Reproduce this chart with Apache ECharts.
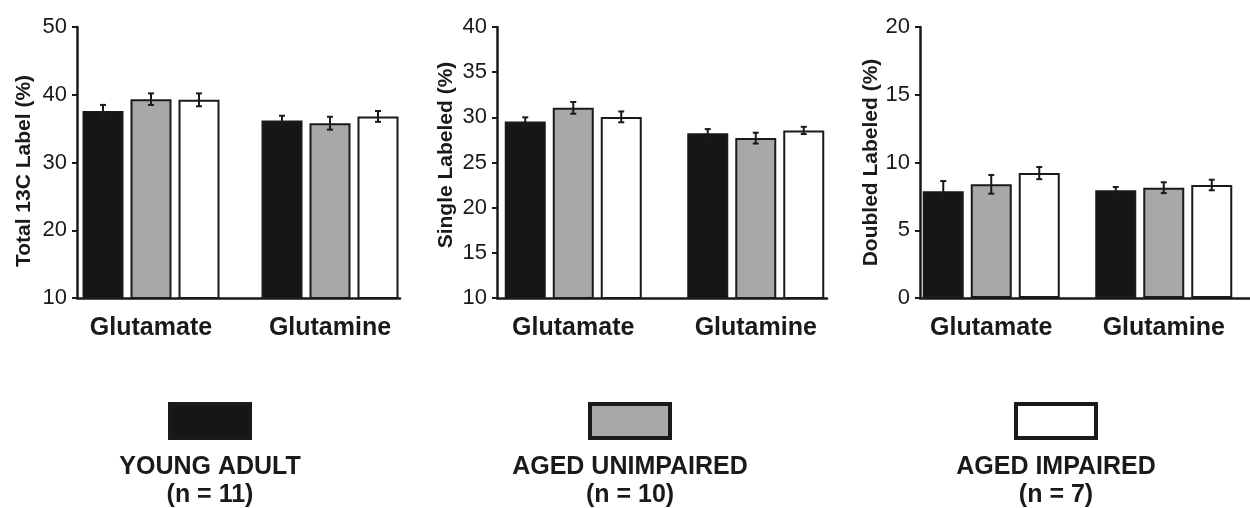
<!DOCTYPE html>
<html>
<head>
<meta charset="utf-8">
<script src="https://cdn.jsdelivr.net/npm/echarts@6/dist/echarts.min.js"></script>
<style>
html,body{margin:0;padding:0;background:#fff;}
#chart{width:1250px;height:508px;}
</style>
</head>
<body>
<div id="chart"></div>
<script>
// ---- data ----
const categories = ['Glutamate', 'Glutamine'];
const groupNames = ['YOUNG ADULT', 'AGED UNIMPAIRED', 'AGED IMPAIRED'];
const groupN = [11, 10, 7];
const panelTitles = ['Total 13C Label (%)', 'Single Labeled (%)', 'Doubled Labeled (%)'];
const yMins = [10, 10, 0];
const yMaxs = [50, 40, 20];
const yIntervals = [10, 5, 5];

const totalYoung = [37.6, 36.2];
const totalYoungErr = [0.9, 0.7];
const totalUnimp = [39.35, 35.8];
const totalUnimpErr = [0.85, 0.95];
const totalImp = [39.25, 36.8];
const totalImpErr = [0.95, 0.8];

const singleYoung = [29.55, 28.25];
const singleYoungErr = [0.45, 0.45];
const singleUnimp = [31.05, 27.7];
const singleUnimpErr = [0.65, 0.6];
const singleImp = [30.05, 28.55];
const singleImpErr = [0.6, 0.4];

const doubledYoung = [7.87, 7.95];
const doubledYoungErr = [0.76, 0.24];
const doubledUnimp = [8.39, 8.14];
const doubledUnimpErr = [0.69, 0.4];
const doubledImp = [9.22, 8.34];
const doubledImpErr = [0.45, 0.39];

// ---- style / layout ----
const FONT = 'Liberation Sans, Arial, sans-serif';
const INK = '#1a1a1a';
const fills = ['#161616', '#a8a8a8', '#ffffff'];
const BAR_W = 41, GAP_PX = 7;
const panels = [
  { means: [totalYoung, totalUnimp, totalImp], errs: [totalYoungErr, totalUnimpErr, totalImpErr],
    axisLeft: 77, axisWidth: 323, barLeft: 61.5, barWidth: 358, nameGap: 42, namePad: [0, 17, 0, 0] },
  { means: [singleYoung, singleUnimp, singleImp], errs: [singleYoungErr, singleUnimpErr, singleImpErr],
    axisLeft: 497, axisWidth: 330, barLeft: 482, barWidth: 365, nameGap: 40, namePad: [0, 0, 0, 15] },
  { means: [doubledYoung, doubledUnimp, doubledImp], errs: [doubledYoungErr, doubledUnimpErr, doubledImpErr],
    axisLeft: 920, axisWidth: 335, barLeft: 905, barWidth: 366, nameGap: 34, namePad: [0, 0, 0, 0] }
];
const TOP = 27, HEIGHT = 271;
const legendCenters = [210, 630, 1056];

const grid = [], xAxis = [], yAxis = [], series = [];
panels.forEach((p, i) => {
  const gA = grid.length;
  grid.push({ left: p.axisLeft, top: TOP, width: p.axisWidth, height: HEIGHT, containLabel: false });
  const gB = grid.length;
  grid.push({ left: p.barLeft, top: TOP, width: p.barWidth, height: HEIGHT, containLabel: false });

  // axis-frame grid
  xAxis.push({ type: 'category', gridIndex: gA, data: categories,
    axisLine: { show: true, lineStyle: { color: INK, width: 2.5 } },
    axisTick: { show: false }, axisLabel: { show: false }, splitLine: { show: false } });
  yAxis.push({ type: 'value', gridIndex: gA, min: yMins[i], max: yMaxs[i], interval: yIntervals[i],
    name: panelTitles[i], nameLocation: 'middle', nameGap: p.nameGap,
    nameTextStyle: { fontFamily: FONT, fontSize: 21, fontWeight: 'bold', color: INK, padding: p.namePad },
    axisLine: { show: true, lineStyle: { color: INK, width: 2.5 } },
    axisTick: { show: true, length: 5, lineStyle: { color: INK, width: 2 } },
    axisLabel: { fontFamily: FONT, fontSize: 22, color: INK, margin: 10 },
    splitLine: { show: false } });

  // bar grid
  const xB = xAxis.length;
  xAxis.push({ type: 'category', gridIndex: gB, data: categories,
    axisLine: { show: false }, axisTick: { show: false },
    axisLabel: { fontFamily: FONT, fontSize: 25, fontWeight: 'bold', color: INK, margin: 18 } });
  const yB = yAxis.length;
  yAxis.push({ type: 'value', gridIndex: gB, min: yMins[i], max: yMaxs[i], interval: yIntervals[i], show: false });

  groupNames.forEach((g, k) => {
    series.push({ type: 'bar', name: g, xAxisIndex: xB, yAxisIndex: yB,
      data: p.means[k], barWidth: BAR_W, barGap: (GAP_PX / BAR_W * 100) + '%',
      itemStyle: { color: fills[k], borderColor: INK, borderWidth: 2 },
      emphasis: { disabled: true }, silent: true, z: 2 });
  });
  groupNames.forEach((g, k) => {
    const off = (k - 1) * (BAR_W + GAP_PX);
    series.push({ type: 'custom', xAxisIndex: xB, yAxisIndex: yB, silent: true, z: 5,
      data: p.means[k].map((m, c) => [c, m, p.errs[k][c]]),
      renderItem: (params, api) => {
        const c = api.value(0), m = api.value(1), e = api.value(2);
        const hi = api.coord([c, m + e]);
        const lo = api.coord([c, m - e]);
        const x = hi[0] + off;
        const st = { stroke: INK, lineWidth: 2 };
        return { type: 'group', children: [
          { type: 'line', shape: { x1: x, y1: hi[1], x2: x, y2: lo[1] }, style: st },
          { type: 'line', shape: { x1: x - 3, y1: hi[1], x2: x + 3, y2: hi[1] }, style: st },
          { type: 'line', shape: { x1: x - 3, y1: lo[1], x2: x + 3, y2: lo[1] }, style: st }
        ] };
      } });
  });
});

const graphic = [];
groupNames.forEach((g, k) => {
  const cx = legendCenters[k];
  graphic.push({ type: 'rect', shape: { x: cx - 40, y: 404, width: 80, height: 34 },
    style: { fill: fills[k], stroke: INK, lineWidth: 4 } });
  graphic.push({ type: 'text', x: cx, y: 467,
    style: { text: g, fontFamily: FONT, fontSize: 25, fontWeight: 'bold', fill: INK,
      textAlign: 'center', textVerticalAlign: 'middle' } });
  graphic.push({ type: 'text', x: cx, y: 495,
    style: { text: '(n = ' + groupN[k] + ')', fontFamily: FONT, fontSize: 25, fontWeight: 'bold', fill: INK,
      textAlign: 'center', textVerticalAlign: 'middle' } });
});

const chart = echarts.init(document.getElementById('chart'), null, { renderer: 'canvas' });
chart.setOption({
  animation: false,
  backgroundColor: '#ffffff',
  grid, xAxis, yAxis, series, graphic
});
</script>
</body>
</html>
